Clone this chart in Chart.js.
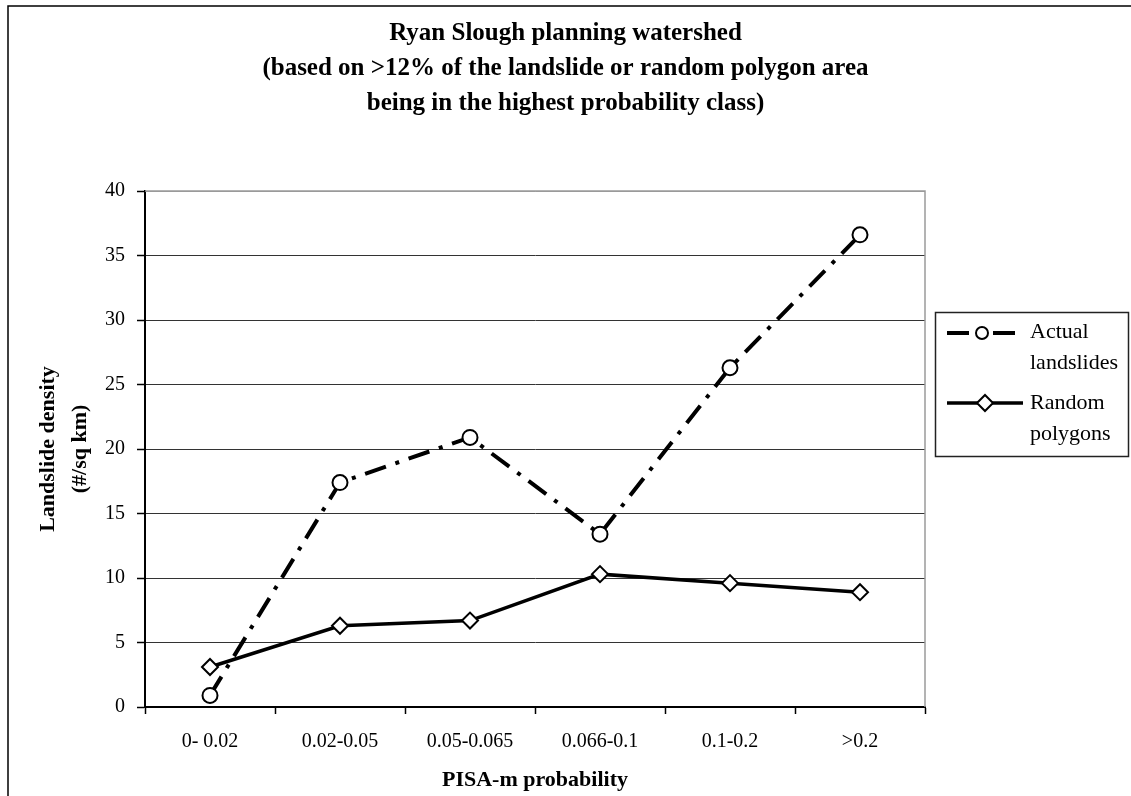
<!DOCTYPE html>
<html>
<head>
<meta charset="utf-8">
<script src="https://cdn.jsdelivr.net/npm/chart.js@4"></script>
<style>
  html, body { margin: 0; padding: 0; background: #fff; }
  #wrap { width: 1131px; height: 796px; position: relative; }
</style>
</head>
<body>
<div id="wrap"><canvas id="c" width="1131" height="796"></canvas></div>
<script>
// Density classes on the PISA-m probability scale
const categories = ['0- 0.02', '0.02-0.05', '0.05-0.065', '0.066-0.1', '0.1-0.2', '>0.2'];

// Landslide density (#/sq km) per class
const actualLandslides = [0.9, 17.4, 20.9, 13.4, 26.3, 36.6];
const randomPolygons   = [3.1, 6.3, 6.7, 10.3, 9.6, 8.9];

// Value axis range and step
const yMin = 0;
const yMax = 40;
const yStep = 5;

const titleLines = [
  'Ryan Slough planning watershed',
  '(based on >12% of the landslide or random polygon area',
  'being in the highest probability class)'
];
const yAxisTitle = ['Landslide density', '(#/sq km)'];
const xAxisTitle = 'PISA-m probability';
const seriesNames = [['Actual', 'landslides'], ['Random', 'polygons']];

const SERIF = '"Liberation Serif", "Times New Roman", Times, serif';

// Frame, titles and the boxed legend are painted around the plot area
const decorPlugin = {
  id: 'decor',
  afterDraw(chart) {
    const ctx = chart.ctx;
    const area = chart.chartArea;
    ctx.save();

    // outer chart frame (left and top edges)
    ctx.strokeStyle = '#000';
    ctx.lineWidth = 1.5;
    ctx.beginPath();
    ctx.moveTo(8, 796);
    ctx.lineTo(8, 6);
    ctx.lineTo(1131, 6);
    ctx.stroke();

    // grey plot border on the top and right
    ctx.strokeStyle = '#9a9a9a';
    ctx.lineWidth = 1.5;
    ctx.beginPath();
    ctx.moveTo(area.left, area.top);
    ctx.lineTo(area.right, area.top);
    ctx.lineTo(area.right, area.bottom);
    ctx.stroke();

    // chart title
    ctx.fillStyle = '#000';
    ctx.font = 'bold 25px ' + SERIF;
    ctx.textAlign = 'center';
    ctx.textBaseline = 'alphabetic';
    const tx = chart.width / 2;
    titleLines.forEach((line, i) => ctx.fillText(line, tx, 40 + i * 35));

    // x axis title
    ctx.font = 'bold 22px ' + SERIF;
    ctx.textBaseline = 'middle';
    ctx.fillText(xAxisTitle, (area.left + area.right) / 2, 780);

    // y axis title, rotated
    ctx.save();
    ctx.translate(0, (area.top + area.bottom) / 2);
    ctx.rotate(-Math.PI / 2);
    ctx.fillText(yAxisTitle[0], 0, 48);
    ctx.fillText(yAxisTitle[1], 0, 80);
    ctx.restore();

    // legend box
    ctx.strokeStyle = '#222';
    ctx.lineWidth = 1.5;
    ctx.strokeRect(935.5, 312.5, 193, 144);

    const rows = [333, 403];
    const textRows = [[332, 363], [403, 434]];
    chart.data.datasets.forEach((ds, i) => {
      const y = rows[i];
      ctx.save();
      ctx.strokeStyle = ds.borderColor;
      ctx.lineWidth = ds.borderWidth;
      ctx.setLineDash(ds.borderDash || []);
      ctx.beginPath();
      ctx.moveTo(947, y);
      ctx.lineTo(1023, y);
      ctx.stroke();
      ctx.setLineDash([]);
      // marker
      ctx.fillStyle = ds.pointBackgroundColor;
      ctx.strokeStyle = ds.pointBorderColor;
      ctx.lineWidth = 2;
      ctx.beginPath();
      if (ds.pointStyle === 'rectRot') {
        const r = 8, cx = 985;
        ctx.moveTo(cx - r, y);
        ctx.lineTo(cx, y - r);
        ctx.lineTo(cx + r, y);
        ctx.lineTo(cx, y + r);
        ctx.closePath();
      } else {
        ctx.arc(982, y, 6, 0, Math.PI * 2);
      }
      ctx.fill();
      ctx.stroke();
      ctx.restore();

      ctx.fillStyle = '#000';
      ctx.font = '22px ' + SERIF;
      ctx.textAlign = 'left';
      ctx.textBaseline = 'middle';
      ctx.fillText(seriesNames[i][0], 1030, textRows[i][0]);
      ctx.fillText(seriesNames[i][1], 1030, textRows[i][1]);
    });

    ctx.restore();
  }
};

new Chart(document.getElementById('c'), {
  type: 'line',
  data: {
    labels: categories,
    datasets: [
      {
        label: seriesNames[0].join(' '),
        data: actualLandslides,
        borderColor: '#000',
        borderWidth: 4,
        borderDash: [22, 10, 4, 10],
        pointStyle: 'circle',
        pointRadius: 7.5,
        pointBorderWidth: 2,
        pointBackgroundColor: '#fff',
        pointBorderColor: '#000',
        fill: false,
        tension: 0
      },
      {
        label: seriesNames[1].join(' '),
        data: randomPolygons,
        borderColor: '#000',
        borderWidth: 3.5,
        pointStyle: 'rectRot',
        pointRadius: 8,
        pointBorderWidth: 2,
        pointBackgroundColor: '#fff',
        pointBorderColor: '#000',
        fill: false,
        tension: 0
      }
    ]
  },
  options: {
    responsive: false,
    animation: false,
    devicePixelRatio: 1,
    layout: { padding: { left: 0, top: 191, right: 206, bottom: 0 } },
    plugins: {
      legend: { display: false },
      title: { display: false },
      tooltip: { enabled: false }
    },
    scales: {
      x: {
        type: 'category',
        offset: true,
        afterFit(scale) { scale.height = 89; },
        grid: {
          offset: true,
          drawOnChartArea: false,
          drawTicks: true,
          tickLength: 7,
          tickColor: '#000',
          tickWidth: 1.5
        },
        border: { display: true, color: '#000', width: 2 },
        ticks: {
          color: '#000',
          font: { family: SERIF, size: 20 },
          padding: 16,
          maxRotation: 0,
          autoSkip: false
        }
      },
      y: {
        min: yMin,
        max: yMax,
        afterFit(scale) { scale.width = 145; },
        grid: {
          color: (c) => (c.tick && c.tick.value === yMax) ? '#9a9a9a' : '#333',
          lineWidth: 1,
          drawTicks: true,
          tickLength: 8,
          tickColor: '#000',
          tickWidth: 1.5
        },
        border: { display: true, color: '#000', width: 2 },
        ticks: {
          stepSize: yStep,
          color: '#000',
          font: { family: SERIF, size: 20 },
          padding: 12
        }
      }
    }
  },
  plugins: [decorPlugin]
});
</script>
</body>
</html>
